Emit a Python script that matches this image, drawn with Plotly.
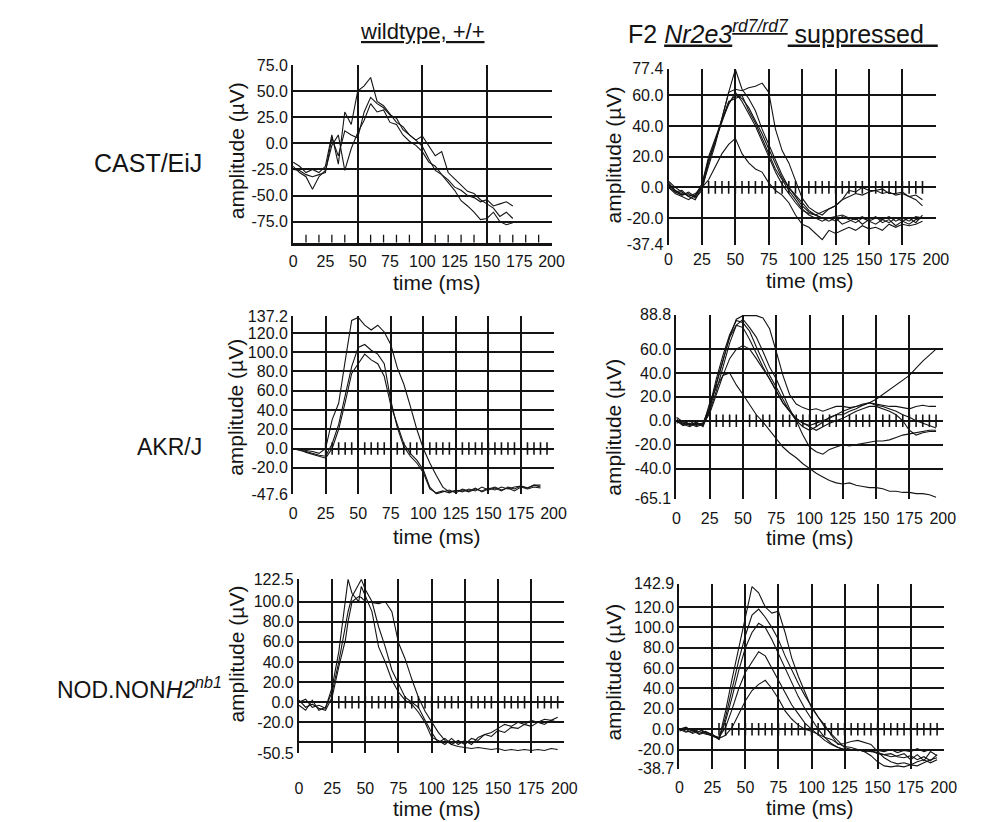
import plotly.graph_objects as go

W, H = 989, 822
FONT = "Liberation Sans, Arial, Helvetica, sans-serif"
INK = "#141414"

# ---------------- data (time in ms, amplitude in microvolts) ----------------
X_TICKS = [0, 25, 50, 75, 100, 125, 150, 175, 200]

# CAST/EiJ wildtype
T_CAST_WT = [0, 5, 10, 15, 20, 25, 30, 35, 40, 45, 50, 55, 60, 65, 70, 75, 80, 85, 90,
             95, 100, 105, 110, 115, 120, 125, 130, 135, 140, 145, 150, 155, 160, 165, 170]
CAST_WT_A = [-18, -22, -28, -25, -28, -22, 8, -20, 30, 18, 50, 55, 63, 40, 36, 28, 20, 16, 8,
             3, -3, -15, -26, -30, -38, -45, -55, -60, -66, -73, -72, -66, -75, -78, -76]
CAST_WT_B = [-22, -28, -32, -44, -32, -26, -2, 8, -26, -5, 10, 22, 38, 30, 32, 20, 18, 8, 2,
             -2, -8, -18, -22, -30, -35, -42, -45, -50, -52, -56, -54, -60, -58, -56, -60]
CAST_WT_C = [-25, -26, -30, -32, -30, -28, 5, -12, 12, 8, 5, 30, 44, 38, 34, 27, 24, 13, 8,
             3, 7, -3, -12, -8, -28, -34, -40, -46, -48, -54, -58, -62, -70, -66, -72]

# CAST/EiJ F2 suppressed
T_CAST_SUP = [0, 5, 10, 15, 20, 25, 30, 35, 40, 45, 50, 55, 60, 65, 70, 75, 80, 85, 90,
              95, 100, 105, 110, 115, 120, 125, 130, 135, 140, 145, 150, 155, 160, 165, 170,
              175, 180, 185, 190]
CAST_SUP_1 = [2, -2, -4, -5, -6, 2, 18, 30, 45, 62, 77, 64, 58, 50, 38, 28, 18, 8, 0,
              -6, -12, -16, -18, -20, -20, -19, -18, -20, -21, -19, -22, -20, -21, -19, -22,
              -20, -22, -19, -20]
CAST_SUP_2 = [0, -3, -2, -6, -4, 0, 14, 28, 45, 62, 64, 63, 65, 66, 68, 62, 38, 24, 16,
              5, -7, -13, -16, -18, -14, -12, -8, -2, -3, 0, -2, -2, -1, -4, -4,
              -3, -6, -8, -12]
CAST_SUP_3 = [3, -2, -5, -3, -6, 0, 5, 14, 22, 28, 32, 22, 16, 12, 10, 3, -2, -5, -10,
              -18, -24, -26, -30, -34, -28, -30, -28, -26, -28, -25, -27, -26, -28, -24, -26,
              -24, -25, -24, -22]
CAST_SUP_4 = [0, -4, -6, -8, -5, 2, 20, 32, 45, 56, 58, 60, 50, 42, 32, 22, 12, 5, -2,
              -8, -14, -18, -20, -22, -20, -22, -19, -21, -23, -20, -22, -24, -21, -23, -20,
              -22, -24, -21, -20]
CAST_SUP_5 = [4, 0, -3, -6, -8, 0, 18, 30, 42, 55, 60, 58, 52, 44, 35, 25, 15, 6, 0,
              -5, -10, -15, -18, -20, -22, -20, -24, -22, -20, -24, -21, -19, -23, -21, -25,
              -22, -20, -23, -18]
CAST_SUP_6 = [2, -3, -5, -4, -7, -2, 16, 30, 44, 54, 62, 56, 48, 40, 30, 20, 10, 2, -4,
              -10, -15, -17, -18, -16, -14, -12, -8, -6, -4, -5, -3, -2, -4, -3, -5,
              -4, -6, -5, -8]

# AKR/J wildtype
T_AKR_WT = T_CAST_SUP
AKR_WT_1 = [0, -1, -2, -3, -5, 0, 30, 47, 91, 133, 136, 128, 123, 128, 121, 108, 84, 67, 44,
            20, 0, -15, -28, -40, -45, -44, -43, -45, -42, -44, -41, -43, -40, -42, -40,
            -39, -41, -38, -38]
AKR_WT_2 = [0, -2, -3, -5, -7, -8, 5, 25, 55, 85, 105, 108, 102, 98, 88, 50, 22, 2, -8,
            -15, -25, -42, -46, -44, -46, -43, -45, -42, -44, -40, -43, -41, -44, -40, -42,
            -39, -41, -38, -40]
AKR_WT_3 = [0, -1, -4, -6, -8, -10, 0, 20, 48, 78, 88, 98, 92, 88, 75, 45, 25, 5, -5,
            -12, -22, -40, -47, -45, -43, -46, -42, -44, -41, -45, -42, -40, -43, -41, -44,
            -40, -42, -40, -41]

# AKR/J F2 suppressed
T_AKR_SUP = [0, 5, 10, 15, 20, 25, 30, 35, 40, 45, 50, 55, 60, 65, 70, 75, 80, 85, 90, 95,
             100, 105, 110, 115, 120, 125, 130, 135, 140, 145, 150, 155, 160, 165, 170, 175,
             180, 185, 190, 195]
AKR_SUP_1 = [0, -2, -3, -3, -2, 10, 30, 50, 70, 85, 88, 88, 88, 86, 77, 58, 38, 22, 14, 11,
             9, 10, 8, 10, 12, 12, 11, 12, 13, 15, 14, 13, 12, 12, 11, 10,
             12, 13, 12, 12]
AKR_SUP_2 = [2, -3, 0, -4, -2, 12, 35, 55, 72, 84, 82, 75, 62, 50, 38, 28, 18, 8, 0, -5,
             -8, -5, -1, 3, 5, 5, 8, 10, 13, 15, 18, 22, 26, 30, 34, 38,
             44, 50, 55, 60]
AKR_SUP_3 = [-2, 0, -3, -2, -4, 8, 25, 45, 65, 80, 85, 78, 70, 58, 45, 35, 22, 10, 0, -12,
             -22, -26, -28, -24, -22, -20, -21, -20, -19, -18, -17, -17, -16, -14, -12, -11,
             -10, -9, -8, -8]
AKR_SUP_4 = [0, -4, -2, -5, -3, 6, 22, 38, 52, 60, 63, 60, 52, 44, 35, 25, 15, 8, 2, -2,
             -4, -2, 0, 2, 5, 8, 10, 12, 14, 15, 13, 12, 10, 8, 5, 3,
             0, -2, -4, -6]
AKR_SUP_5 = [0, -3, -5, -2, -4, 15, 28, 38, 40, 30, 22, 14, 5, -1, -8, -15, -22, -27, -31, -36,
             -40, -44, -47, -50, -52, -53, -52, -54, -55, -56, -56, -57, -59, -59, -60, -60,
             -61, -61, -62, -64]
AKR_SUP_6 = [3, -1, -4, -1, -5, 10, 32, 52, 70, 80, 78, 68, 56, 45, 35, 25, 15, 8, 2, -2,
             -5, -8, -5, -2, 0, 2, 5, 8, 10, 12, 12, 10, 8, 5, 0, -8,
             -12, -10, -9, -9]

# NOD.NON H2nb1 wildtype
T_NOD_WT = [0, 5, 10, 15, 20, 25, 30, 35, 37, 40, 45, 47, 50, 55, 60, 65, 70, 75, 80, 85,
            90, 95, 100, 105, 110, 115, 120, 125, 130, 135, 140, 145, 150, 155, 160, 165,
            170, 175, 180, 185, 190, 195]
NOD_WT_1 = [0, 3, -5, -3, -6, 15, 50, 100, 122, 108, 100, 115, 105, 90, 55, 40, 22, 10, 2, -2,
            -10, -20, -35, -38, -42, -36, -42, -38, -42, -35, -32, -30, -26, -22, -24, -20,
            -22, -18, -20, -17, -18, -15]
NOD_WT_2 = [-3, -8, 2, -8, -5, 10, 40, 75, 90, 105, 118, 122, 112, 100, 75, 55, 32, 18, 5, 0,
            -5, -18, -30, -40, -36, -42, -38, -42, -36, -38, -32, -34, -28, -30, -25, -26,
            -22, -24, -20, -22, -18, -20]
NOD_WT_3 = [2, -5, -2, -6, -8, 5, 35, 62, 80, 100, 105, 104, 100, 99, 98, 100, 90, 59, 43, 23,
            5, -9, -19, -30, -38, -42, -44, -45, -46, -45, -46, -47, -46, -48, -47, -48,
            -47, -48, -47, -48, -46, -47]

# NOD.NON H2nb1 F2 suppressed
T_NOD_SUP = T_AKR_SUP
NOD_SUP_1 = [0, 2, -2, 0, -3, -5, -10, 18, 50, 80, 108, 140, 134, 120, 114, 116, 95, 70, 52, 36,
             21, 12, 4, -6, -15, -14, -12, -11, -13, -15, -22, -28, -32, -34, -33, -35,
             -32, -30, -33, -30]
NOD_SUP_2 = [-2, 1, 0, -4, -2, -6, -10, 12, 40, 68, 92, 112, 118, 110, 100, 88, 72, 58, 45, 33,
             22, 12, 2, -5, -12, -18, -20, -20, -22, -21, -24, -25, -27, -26, -24, -30,
             -25, -31, -22, -26]
NOD_SUP_3 = [1, -2, -3, 0, -4, -7, -9, 8, 32, 58, 80, 95, 104, 100, 88, 74, 60, 46, 32, 20,
             10, 0, -8, -14, -18, -20, -20, -20, -21, -22, -23, -25, -24, -27, -28, -26,
             -30, -27, -31, -25]
NOD_SUP_4 = [-1, 0, -4, -2, -5, -6, -8, 2, 20, 40, 56, 66, 76, 72, 60, 48, 36, 24, 15, 6,
             0, -6, -11, -15, -18, -20, -20, -21, -20, -22, -21, -22, -20, -23, -21, -22,
             -19, -22, -20, -21]
NOD_SUP_5 = [0, -3, -1, -5, -3, -6, -9, -6, 2, 15, 28, 38, 44, 48, 40, 30, 18, 10, 4, 0,
             -2, -5, -8, -10, -14, -17, -18, -20, -22, -26, -32, -36, -37, -36, -37, -35,
             -36, -33, -30, -28]

# small stimulus marks drawn across the zero line (ms)
MARKS_CAST_SUP = [25, 30, 35, 40, 45, 50, 55, 60, 65, 70, 75, 80, 85, 90, 95, 100, 105, 110,
                  115, 120, 125, 130, 135, 140, 145, 150, 155, 160, 165, 170, 175, 180, 185, 190]
MARKS_AKR_WT = MARKS_CAST_SUP + [195]
MARKS_LATE = MARKS_AKR_WT[1:]
MARKS_CAST_WT_AXIS = [10, 20, 30, 40, 50, 60, 70, 80, 90, 100, 110, 120, 130, 140, 150, 160,
                      170, 180, 190]

# ---------------- layout helpers ----------------
def fx(p):
    return p / W


def fy(p):
    return 1 - p / H


panels = [
    dict(t=T_CAST_WT, ys=[CAST_WT_A, CAST_WT_B, CAST_WT_C],
         xpx=(286, 549), ypx=(50, 231.3), yr=(-95, 75),
         ylab=[75, 50, 25, 0, -25, -50, -75], ygrid=[50, 25, 0, -25, -50, -75],
         xgrid=[50, 100, 150], marks=None, bottom_marks=MARKS_CAST_WT_AXIS,
         bottom_line=True, standoff=2),
    dict(t=T_CAST_SUP, ys=[CAST_SUP_1, CAST_SUP_2, CAST_SUP_3, CAST_SUP_4, CAST_SUP_5, CAST_SUP_6],
         xpx=(668, 940), ypx=(53.8, 233.6), yr=(-37.4, 77.4),
         ylab=[77.4, 60, 40, 20, 0, -20, -37.4], ygrid=[60, 40, 20, 0, -20],
         xgrid=[25, 50, 75, 100, 125, 150, 175, 200], marks=MARKS_CAST_SUP, bottom_marks=None,
         bottom_line=False, standoff=3),
    dict(t=T_AKR_WT, ys=[AKR_WT_1, AKR_WT_2, AKR_WT_3],
         xpx=(286, 551), ypx=(306.7, 488.5), yr=(-47.6, 137.2),
         ylab=[137.2, 120, 100, 80, 60, 40, 20, 0, -20, -47.6],
         ygrid=[120, 100, 80, 60, 40, 20, 0, -20, -47.6],
         xgrid=[25, 50, 75, 100, 125, 150, 175, 200], marks=MARKS_AKR_WT, bottom_marks=None,
         bottom_line=False, standoff=8),
    dict(t=T_AKR_SUP, ys=[AKR_SUP_1, AKR_SUP_2, AKR_SUP_3, AKR_SUP_4, AKR_SUP_5, AKR_SUP_6],
         xpx=(676, 947), ypx=(305, 492.7), yr=(-65.1, 88.8),
         ylab=[88.8, 60, 40, 20, 0, -20, -40, -65.1],
         ygrid=[88.8, 60, 40, 20, 0, -20, -40, -65.1],
         xgrid=[25, 50, 75, 100, 125, 150, 175, 200], marks=MARKS_LATE, bottom_marks=None,
         bottom_line=False, standoff=8),
    dict(t=T_NOD_WT, ys=[NOD_WT_1, NOD_WT_2, NOD_WT_3],
         xpx=(292, 562), ypx=(574.8, 752.6), yr=(-50.5, 122.5),
         ylab=[122.5, 100, 80, 60, 40, 20, 0, -20, -50.5],
         ygrid=[122.5, 100, 80, 60, 40, 20, 0, -20, -40],
         xgrid=[25, 50, 75, 100, 125, 150, 175, 200], marks=MARKS_LATE, bottom_marks=None,
         bottom_line=False, standoff=24),
    dict(t=T_NOD_SUP, ys=[NOD_SUP_1, NOD_SUP_2, NOD_SUP_3, NOD_SUP_4, NOD_SUP_5],
         xpx=(679, 948), ypx=(579.7, 768.5), yr=(-38.7, 142.9),
         ylab=[142.9, 120, 100, 80, 60, 40, 20, 0, -20, -38.7],
         ygrid=[142.9, 120, 100, 80, 60, 40, 20, 0, -20, -38.7],
         xgrid=[25, 50, 75, 100, 125, 150, 175, 200], marks=MARKS_LATE, bottom_marks=None,
         bottom_line=False, standoff=7),
]

fig = go.Figure()
layout = dict(
    width=W, height=H, margin=dict(l=0, r=0, t=0, b=0),
    paper_bgcolor="white", plot_bgcolor="rgba(0,0,0,0)",
    showlegend=False, font=dict(family=FONT, color=INK, size=16),
)

TICK_FONT = dict(size=16, family=FONT, color=INK)

for i, p in enumerate(panels, start=1):
    xa = "x" if i == 1 else f"x{i}"
    ya = "y" if i == 1 else f"y{i}"
    for ys in p["ys"]:
        fig.add_trace(go.Scatter(x=p["t"], y=ys, mode="lines", xaxis=xa, yaxis=ya,
                                 line=dict(color=INK, width=1.1), hoverinfo="skip"))
    if p["marks"]:
        fig.add_trace(go.Scatter(x=p["marks"], y=[0] * len(p["marks"]), mode="markers",
                                 xaxis=xa, yaxis=ya, hoverinfo="skip",
                                 marker=dict(symbol="line-ns", size=9,
                                             line=dict(color=INK, width=1.6))))
    if p["bottom_marks"]:
        fig.add_trace(go.Scatter(x=p["bottom_marks"], y=[p["yr"][0]] * len(p["bottom_marks"]),
                                 mode="markers", xaxis=xa, yaxis=ya, hoverinfo="skip",
                                 cliponaxis=True,
                                 marker=dict(symbol="line-ns", size=11,
                                             line=dict(color=INK, width=1.3))))
    xkey = "xaxis" if i == 1 else f"xaxis{i}"
    ykey = "yaxis" if i == 1 else f"yaxis{i}"
    layout[xkey] = dict(
        domain=[fx(p["xpx"][0]), fx(p["xpx"][1])], anchor=ya, range=[0, 200],
        tickmode="array", tickvals=X_TICKS, ticktext=[str(v) for v in X_TICKS],
        ticks="", ticklen=0, showgrid=False, zeroline=False,
        showline=p["bottom_line"], linecolor=INK, linewidth=3,
        ticklabelstandoff=p["standoff"], tickfont=TICK_FONT,
        minor=dict(tickmode="array", tickvals=p["xgrid"], showgrid=True,
                   gridcolor=INK, gridwidth=1.7, ticks=""),
        fixedrange=True,
    )
    layout[ykey] = dict(
        domain=[fy(p["ypx"][1]), fy(p["ypx"][0])], anchor=xa, range=list(p["yr"]),
        tickmode="array", tickvals=p["ylab"], ticktext=[f"{v:.1f}" for v in p["ylab"]],
        ticks="", showgrid=False, zeroline=False,
        showline=True, linecolor=INK, linewidth=2, tickfont=TICK_FONT,
        minor=dict(tickmode="array", tickvals=p["ygrid"], showgrid=True,
                   gridcolor=INK, gridwidth=1.7, ticks=""),
        fixedrange=True,
    )


def label(text, xp, yp, size, angle=0):
    return dict(text=text, x=fx(xp), y=fy(yp), xref="paper", yref="paper",
                xanchor="center", yanchor="middle", textangle=angle, showarrow=False,
                font=dict(size=size, family=FONT, color=INK))


ann = [
    # column headings
    label("<u>wildtype, +/+</u>", 418, 16, 22),
    label("F2 <u><i>Nr2e3</i><sup><i>rd7/rd7</i></sup> suppressed  </u>", 784, 16, 25),
    # row labels
    label("CAST/EiJ", 138, 150, 25),
    label("AKR/J", 160, 440, 23),
    label("NOD.NON<i>H2</i><sup><i>nb1</i></sup>", 130, 686, 23),
]
# axis titles
for (xp, yp) in [(228, 138), (612, 142), (228, 400), (612, 420), (228, 652), (612, 670)]:
    ann.append(label("amplitude (µV)", xp, yp, 21, angle=-90))
for (xp, yp) in [(432, 272), (812, 270), (432, 531), (812, 533), (432, 809), (812, 808)]:
    ann.append(label("time (ms)", xp, yp, 21))

layout["annotations"] = ann
fig.update_layout(**layout)
fig.write_html("out.html")
